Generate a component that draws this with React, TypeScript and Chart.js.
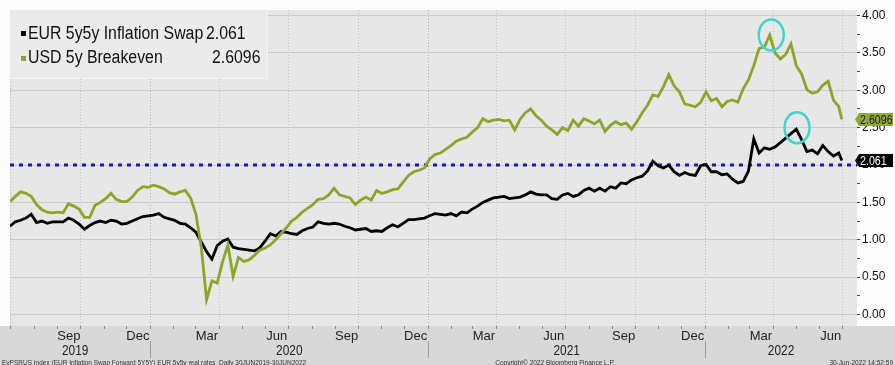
import React, { useEffect, useRef } from "react";
import { Chart, registerables } from "chart.js";

Chart.register(...registerables);

const DAY = 86400000;
const FONT = "'Liberation Sans', Arial, sans-serif";

// ---- data -----------------------------------------------------------------
const seriesStart = "2019-06-30"; // weekly observations from this date
const lastDate = "2022-06-30"; // final observation
const axisStart = "2019-06-30";
const axisEnd = "2022-07-20";

const eurName = "EUR 5y5y Inflation Swap";
const usdName = "USD 5y Breakeven";

const eurValues = [
  1.18, 1.24, 1.26, 1.29, 1.34, 1.23, 1.25, 1.22, 1.24, 1.24,
  1.24, 1.29, 1.26, 1.21, 1.14, 1.19, 1.23, 1.25, 1.23, 1.26,
  1.25, 1.21, 1.22, 1.25, 1.28, 1.31, 1.32, 1.33, 1.35, 1.30,
  1.28, 1.26, 1.22, 1.21, 1.16, 1.10, 0.97, 0.84, 0.74, 0.92,
  0.98, 1.01, 0.90, 0.88, 0.87, 0.86, 0.85, 0.89, 0.98, 1.08,
  1.05, 1.11, 1.10, 1.08, 1.07, 1.12, 1.15, 1.17, 1.24, 1.22,
  1.21, 1.22, 1.21, 1.18, 1.16, 1.13, 1.14, 1.15, 1.11, 1.12,
  1.11, 1.16, 1.20, 1.17, 1.22, 1.27, 1.27, 1.28, 1.29, 1.32,
  1.35, 1.34, 1.33, 1.35, 1.32, 1.37, 1.36, 1.41, 1.45, 1.50,
  1.53, 1.56, 1.57, 1.58, 1.55, 1.56, 1.57, 1.60, 1.64, 1.61,
  1.60, 1.60, 1.55, 1.54, 1.60, 1.62, 1.58, 1.60, 1.66, 1.69,
  1.65, 1.69, 1.65, 1.71, 1.69, 1.76, 1.75, 1.80, 1.83, 1.85,
  1.92, 2.05, 1.99, 1.96, 2.00, 1.91, 1.86, 1.90, 1.87, 1.86,
  1.99, 2.01, 1.91, 1.91, 1.87, 1.88, 1.81, 1.76, 1.78, 1.92,
  2.35, 2.16, 2.23, 2.21, 2.24, 2.30, 2.36, 2.42, 2.48, 2.34,
  2.18, 2.20, 2.15, 2.26, 2.18, 2.12, 2.16,
  2.061,
];

const usdValues = [
  1.51, 1.58, 1.64, 1.62, 1.58, 1.47, 1.40, 1.37, 1.36, 1.37,
  1.36, 1.48, 1.45, 1.41, 1.30, 1.30, 1.46, 1.50, 1.55, 1.62,
  1.54, 1.51, 1.51, 1.57, 1.66, 1.71, 1.70, 1.73, 1.71, 1.68,
  1.63, 1.61, 1.64, 1.66, 1.56, 1.34, 0.90, 0.20, 0.45, 0.42,
  0.70, 0.93, 0.51, 0.76, 0.71, 0.73, 0.79, 0.86, 0.89, 0.93,
  1.00, 1.08, 1.16, 1.25, 1.30, 1.37, 1.42, 1.47, 1.54, 1.55,
  1.60, 1.69, 1.60, 1.58, 1.56, 1.47, 1.53, 1.57, 1.53, 1.66,
  1.62, 1.64, 1.67, 1.68, 1.77, 1.86, 1.91, 1.93, 1.96, 2.08,
  2.14, 2.16, 2.21, 2.26, 2.32, 2.35, 2.37, 2.44, 2.50, 2.62,
  2.58, 2.60, 2.61, 2.59, 2.60, 2.47, 2.61, 2.70, 2.75, 2.66,
  2.60, 2.52, 2.47, 2.41, 2.50, 2.46, 2.60, 2.52, 2.62, 2.59,
  2.55, 2.60, 2.45, 2.53, 2.58, 2.54, 2.56, 2.48, 2.58, 2.70,
  2.80, 2.94, 2.92, 3.05, 3.21, 3.06, 2.98, 2.82, 2.80, 2.78,
  2.84, 2.98, 2.86, 2.89, 2.78, 2.85, 2.87, 2.84, 3.02, 3.14,
  3.33, 3.56, 3.58, 3.74, 3.50, 3.42, 3.48, 3.62, 3.33, 3.22,
  3.01, 2.96, 2.98, 3.07, 3.12, 2.87, 2.78,
  2.6096,
];

const eurLastLabel = "2.061";
const usdLastLabel = "2.6096";
const refLevel = 2.0;

const yMin = -0.155;
const yMax = 4.075;
const yTickValues = [0, 0.25, 0.5, 0.75, 1, 1.25, 1.5, 1.75, 2, 2.25, 2.5, 2.75, 3, 3.25, 3.5, 3.75, 4];
const monthTickLabels: Record<number, string> = { 2: "Mar", 5: "Jun", 8: "Sep", 11: "Dec" };
const yearLabels = ["2019", "2020", "2021", "2022"];

const highlightDates = ["2022-03-29", "2022-05-02"];
const highlightValues = [3.74, 2.5];

const footerLeft = "EvPSRUS Index (EUR Inflation Swap Forward 5Y5Y) EUR 5y5y real rates  Daily 30JUN2019-30JUN2022";
const footerCenter = "Copyright\u00A9 2022 Bloomberg Finance L.P.";
const footerRight = "30-Jun-2022 14:52:59";

// ---- colours ----------------------------------------------------------------
const GREEN = "#8aa52a";
const TAG_GREEN = "#8fa83a";
const BLACK = "#000000";
const REF_BLUE = "#1b1ba0";
const CYAN = "#3dd5cd";

const ms = (s: string) => Date.parse(s + "T00:00:00Z");

const pointDates = eurValues.map((_, i) =>
  i === eurValues.length - 1 ? ms(lastDate) : ms(seriesStart) + i * 7 * DAY
);

// draw text horizontally condensed (the original uses a narrow face)
function narrowText(ctx: CanvasRenderingContext2D, text: string, x: number, y: number, sx: number) {
  ctx.save();
  ctx.translate(x, y);
  ctx.scale(sx, 1);
  ctx.fillText(text, 0, 0);
  ctx.restore();
}

const decorPlugin = {
  id: "bbgDecor",
  beforeDraw(chart: any) {
    const { ctx, chartArea: a, width, height } = chart;
    ctx.save();
    ctx.fillStyle = "#fdfdfd";
    ctx.fillRect(0, 0, width, height);
    ctx.fillStyle = "#d8d8d8";
    ctx.fillRect(0, a.bottom, width, height - a.bottom);
    ctx.fillStyle = "#e7e7e7";
    ctx.fillRect(a.left, a.top, a.right - a.left, a.bottom - a.top);
    ctx.restore();
  },
  afterDraw(chart: any) {
    const { ctx, chartArea: a, width, height } = chart;
    const xs = chart.scales.x;
    const ys = chart.scales.y;
    ctx.save();

    // legend box
    ctx.fillStyle = "#ebebeb";
    ctx.fillRect(a.left, a.top, 257, 68);
    ctx.strokeStyle = "#f6f6f6";
    ctx.lineWidth = 1;
    ctx.beginPath();
    ctx.moveTo(a.left, a.top + 68.5);
    ctx.lineTo(a.left + 257.5, a.top + 68.5);
    ctx.lineTo(a.left + 257.5, a.top);
    ctx.stroke();
    ctx.font = `18px ${FONT}`;
    ctx.textBaseline = "alphabetic";
    ctx.textAlign = "left";
    ctx.fillStyle = BLACK;
    ctx.fillRect(21, 31, 5, 5);
    ctx.fillStyle = GREEN;
    ctx.fillRect(21, 56, 5, 5);
    ctx.fillStyle = "#111";
    narrowText(ctx, eurName, 28, 39, 0.88);
    narrowText(ctx, eurLastLabel, 206, 39, 0.88);
    narrowText(ctx, usdName, 28, 63, 0.88);
    narrowText(ctx, usdLastLabel, 212, 63, 0.88);

    // value tags on right axis
    const tag = (v: number, text: string, bg: string, fg: string) => {
      const y = ys.getPixelForValue(v);
      const x0 = a.right;
      ctx.fillStyle = bg;
      ctx.beginPath();
      ctx.moveTo(x0 - 2, y);
      ctx.lineTo(x0 + 2, y - 6.5);
      ctx.lineTo(x0 + 36, y - 6.5);
      ctx.lineTo(x0 + 36, y + 6.5);
      ctx.lineTo(x0 + 2, y + 6.5);
      ctx.closePath();
      ctx.fill();
      ctx.fillStyle = fg;
      ctx.font = `13px ${FONT}`;
      ctx.textBaseline = "middle";
      ctx.textAlign = "left";
      narrowText(ctx, text, x0 + 3, y + 0.5, 0.82);
    };
    tag(usdValues[usdValues.length - 1], usdLastLabel, TAG_GREEN, "#1a1a1a");
    tag(eurValues[eurValues.length - 1], eurLastLabel, BLACK, "#ffffff");

    // highlight circles
    ctx.strokeStyle = CYAN;
    ctx.lineWidth = 2.5;
    highlightDates.forEach((d, i) => {
      const px = xs.getPixelForValue(ms(d));
      const py = ys.getPixelForValue(highlightValues[i]);
      ctx.beginPath();
      ctx.ellipse(px, py, 12.5, 15.5, 0, 0, Math.PI * 2);
      ctx.stroke();
    });

    // year labels and separators
    ctx.fillStyle = "#222";
    ctx.font = `14px ${FONT}`;
    ctx.textAlign = "center";
    ctx.textBaseline = "middle";
    yearLabels.forEach((yl, i) => {
      const yr = parseInt(yl, 10);
      const start = Math.max(0, xs.getPixelForValue(Date.UTC(yr, 0, 1)));
      const end = Math.min(a.right, xs.getPixelForValue(Date.UTC(yr + 1, 0, 1)));
      const left = i === 0 ? 0 : start;
      narrowText(ctx, yl, (left + end) / 2, 351, 0.85);
      if (i > 0) {
        ctx.strokeStyle = "#9a9a9a";
        ctx.lineWidth = 1;
        ctx.beginPath();
        ctx.moveTo(Math.round(start) + 0.5, 341);
        ctx.lineTo(Math.round(start) + 0.5, 358);
        ctx.stroke();
      }
    });

    // footer
    ctx.fillStyle = "#333";
    ctx.font = `6.5px ${FONT}`;
    ctx.textBaseline = "middle";
    ctx.textAlign = "left";
    ctx.fillText(footerLeft, 2, height - 2);
    ctx.textAlign = "center";
    ctx.fillText(footerCenter, 555, height - 2);
    ctx.textAlign = "right";
    ctx.fillText(footerRight, width - 2, height - 2);
    ctx.restore();
  },
};

export default function App() {
  const canvasRef = useRef<HTMLCanvasElement | null>(null);

  useEffect(() => {
    document.body.style.margin = "0";
    const canvas = canvasRef.current;
    if (!canvas) return;

    const chart = new Chart(canvas, {
      type: "line",
      data: {
        datasets: [
          {
            label: usdName,
            data: usdValues.map((v, i) => ({ x: pointDates[i], y: v })),
            borderColor: GREEN,
            borderWidth: 2.8,
            pointRadius: 0,
            tension: 0,
            order: 0,
          },
          {
            label: eurName,
            data: eurValues.map((v, i) => ({ x: pointDates[i], y: v })),
            borderColor: BLACK,
            borderWidth: 2.8,
            pointRadius: 0,
            tension: 0,
            order: 1,
          },
          {
            label: "ref",
            data: [
              { x: ms(axisStart), y: refLevel },
              { x: ms(axisEnd), y: refLevel },
            ],
            borderColor: REF_BLUE,
            borderWidth: 3,
            borderDash: [4, 5],
            pointRadius: 0,
            order: 2,
          },
        ],
      },
      options: {
        animation: false,
        responsive: false,
        events: [],
        layout: { padding: { left: 10, top: 10, right: 0, bottom: 0 } },
        plugins: {
          legend: { display: false },
          tooltip: { enabled: false },
        },
        scales: {
          x: {
            type: "linear",
            position: "bottom",
            min: ms(axisStart),
            max: ms(axisEnd),
            afterBuildTicks: (scale: any) => {
              const ticks: { value: number }[] = [];
              const s = new Date(scale.min);
              let y = s.getUTCFullYear();
              let m = s.getUTCMonth() + 1;
              for (;;) {
                const v = Date.UTC(y, m, 1);
                if (v > scale.max) break;
                ticks.push({ value: v });
                m++;
              }
              scale.ticks = ticks;
            },
            afterFit: (scale: any) => {
              scale.height = 39;
            },
            ticks: {
              autoSkip: false,
              maxRotation: 0,
              minRotation: 0,
              labelOffset: 11,
              padding: 0,
              color: "#222",
              font: { family: FONT, size: 13 },
              callback: (value: any) => monthTickLabels[new Date(value).getUTCMonth()] || "",
            },
            grid: {
              color: (ctx: any) => {
                const v = ctx.tick && ctx.tick.value;
                if (v === undefined) return "transparent";
                const mth = new Date(v).getUTCMonth();
                return mth % 3 === 0 ? (mth === 0 ? "#acacac" : "#c0c0c0") : "transparent";
              },
              tickColor: "#8a8a8a",
              tickLength: 3,
              lineWidth: 1,
            },
            border: { display: false, dash: [1, 2] },
          },
          y: {
            type: "linear",
            position: "right",
            min: yMin,
            max: yMax,
            afterBuildTicks: (scale: any) => {
              scale.ticks = yTickValues.map((v) => ({ value: v }));
            },
            afterFit: (scale: any) => {
              scale.width = 38;
            },
            ticks: {
              autoSkip: false,
              padding: 2,
              color: "#111",
              font: { family: FONT, size: 12 },
              callback: (value: any) => (Math.abs((value * 2) % 1) < 1e-9 ? Number(value).toFixed(2) : ""),
            },
            grid: {
              color: (ctx: any) => {
                const v = ctx.tick && ctx.tick.value;
                if (v === undefined) return "transparent";
                return Math.abs((v * 2) % 1) < 1e-9 ? "#cacaca" : "transparent";
              },
              tickColor: "#444",
              tickLength: 3,
              lineWidth: 1,
            },
            border: { display: false },
          },
        },
      },
      plugins: [decorPlugin],
    });

    return () => chart.destroy();
  }, []);

  return (
    <div style={{ width: 895, height: 365, position: "relative" }}>
      <canvas ref={canvasRef} width={895} height={365} style={{ display: "block", width: 895, height: 365 }} />
    </div>
  );
}
